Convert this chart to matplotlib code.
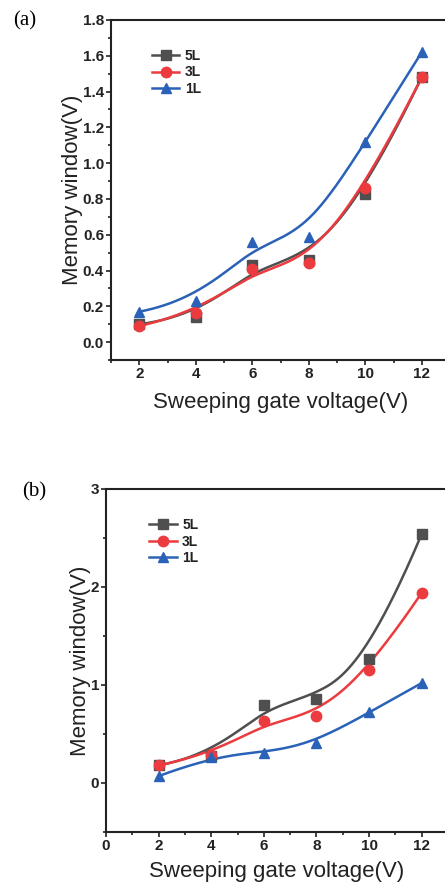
import numpy as np
import matplotlib
matplotlib.use("Agg")
import matplotlib.pyplot as plt
from matplotlib.ticker import MultipleLocator

x = [2, 4, 6, 8, 10, 12]
series = ["5L", "3L", "1L"]
a_5L = [0.10, 0.14, 0.43, 0.46, 0.83, 1.48]
a_3L = [0.09, 0.16, 0.41, 0.44, 0.86, 1.48]
a_1L = [0.17, 0.23, 0.56, 0.59, 1.12, 1.62]
b_5L = [0.18, 0.28, 0.80, 0.86, 1.27, 2.54]
b_3L = [0.18, 0.29, 0.63, 0.68, 1.15, 1.94]
b_1L = [0.07, 0.27, 0.31, 0.41, 0.72, 1.02]

colors = {"5L": "#4f4f4f", "3L": "#ec3b3f", "1L": "#2a62b8"}
markers = {"5L": "s", "3L": "o", "1L": "^"}


def bspline(px, py, n=300, k=3):
    px = np.asarray(px, float)
    py = np.asarray(py, float)
    m = len(px)
    knots = np.array([0] * (k + 1) + list(range(1, m - k)) + [m - k] * (k + 1), float)
    t = np.linspace(0, m - k, n)
    t[-1] -= 1e-9
    N = np.zeros((m + k, n))
    for i in range(len(knots) - 1):
        N[i] = ((t >= knots[i]) & (t < knots[i + 1])).astype(float)
    for d in range(1, k + 1):
        newN = np.zeros((len(knots) - d - 1, n))
        for i in range(len(knots) - d - 1):
            term = np.zeros(n)
            den1 = knots[i + d] - knots[i]
            den2 = knots[i + d + 1] - knots[i + 1]
            if den1 > 0:
                term += (t - knots[i]) / den1 * N[i]
            if den2 > 0:
                term += (knots[i + d + 1] - t) / den2 * N[i + 1]
            newN[i] = term
        N = newN
    return N.T @ px, N.T @ py


plt.rcParams['font.family'] = ['Liberation Sans', 'DejaVu Sans']
fig = plt.figure(figsize=(4.45, 8.86), dpi=100)

ax1 = fig.add_axes([111 / 445, 526 / 886, 339 / 445, 340 / 886])
ax2 = fig.add_axes([106 / 445, 54 / 886, 342 / 445, 343 / 886])

for ax, data in [(ax1, [a_5L, a_3L, a_1L]), (ax2, [b_5L, b_3L, b_1L])]:
    for name, ys in zip(series, data):
        cx, cy = bspline(x, ys)
        ax.plot(cx, cy, color=colors[name], lw=1.8, zorder=2)
        ax.plot(x, ys, linestyle='none', marker=markers[name], color=colors[name],
                markersize=7.5, zorder=3)
        ax.plot([], [], color=colors[name], lw=1.8, marker=markers[name],
                markersize=7.5, label=name)

ax1.set_xlim(1, 13)
ax1.set_ylim(-0.1, 1.8)
ax1.set_xticks([2, 4, 6, 8, 10, 12])
ax1.xaxis.set_minor_locator(MultipleLocator(1))
ax1.yaxis.set_major_locator(MultipleLocator(0.2))
ax1.yaxis.set_minor_locator(MultipleLocator(0.1))
ax1.yaxis.set_major_formatter(matplotlib.ticker.FormatStrFormatter('%.1f'))

ax2.set_xlim(0, 13)
ax2.set_ylim(-0.5, 3)
ax2.set_xticks([0, 2, 4, 6, 8, 10, 12])
ax2.xaxis.set_minor_locator(MultipleLocator(1))
ax2.set_yticks([0, 1, 2, 3])
ax2.yaxis.set_minor_locator(MultipleLocator(0.5))

for ax, xpad, ypad, anchor in [(ax1, 8, 0, (0.12, 0.915)), (ax2, 6, 0, (0.125, 0.915))]:
    for s in ax.spines.values():
        s.set_linewidth(1.5)
        s.set_color('#222222')
    ax.tick_params(which='both', direction='out', top=False, right=False,
                   width=1.2, color='#222222')
    ax.tick_params(which='major', length=3.5, labelsize=11, pad=1.5)
    ax.tick_params(which='minor', length=2.2)
    for lab in ax.get_xticklabels() + ax.get_yticklabels():
        lab.set_fontweight('bold')
        lab.set_color('#222222')
    ax.set_xlabel("Sweeping gate voltage(V)", fontsize=16, color='#222222', labelpad=xpad)
    ax.set_ylabel("Memory window(V)", fontsize=16, color='#222222', labelpad=ypad)
    leg = ax.legend(loc='upper left', bbox_to_anchor=anchor, frameon=False,
                    prop={'weight': 'bold', 'size': 10}, handlelength=2.0,
                    handletextpad=0.4, labelspacing=0.18, borderaxespad=0,
                    borderpad=0)
    for t in leg.get_texts():
        t.set_color('#222222')

fig.text(13 / 445, 1 - 21 / 886, "(a)", family='Liberation Serif', fontsize=15,
         va='center', ha='left')
fig.text(22 / 445, 1 - 492 / 886, "(b)", family='Liberation Serif', fontsize=15,
         va='center', ha='left')

fig.savefig("out.png", dpi=100)
